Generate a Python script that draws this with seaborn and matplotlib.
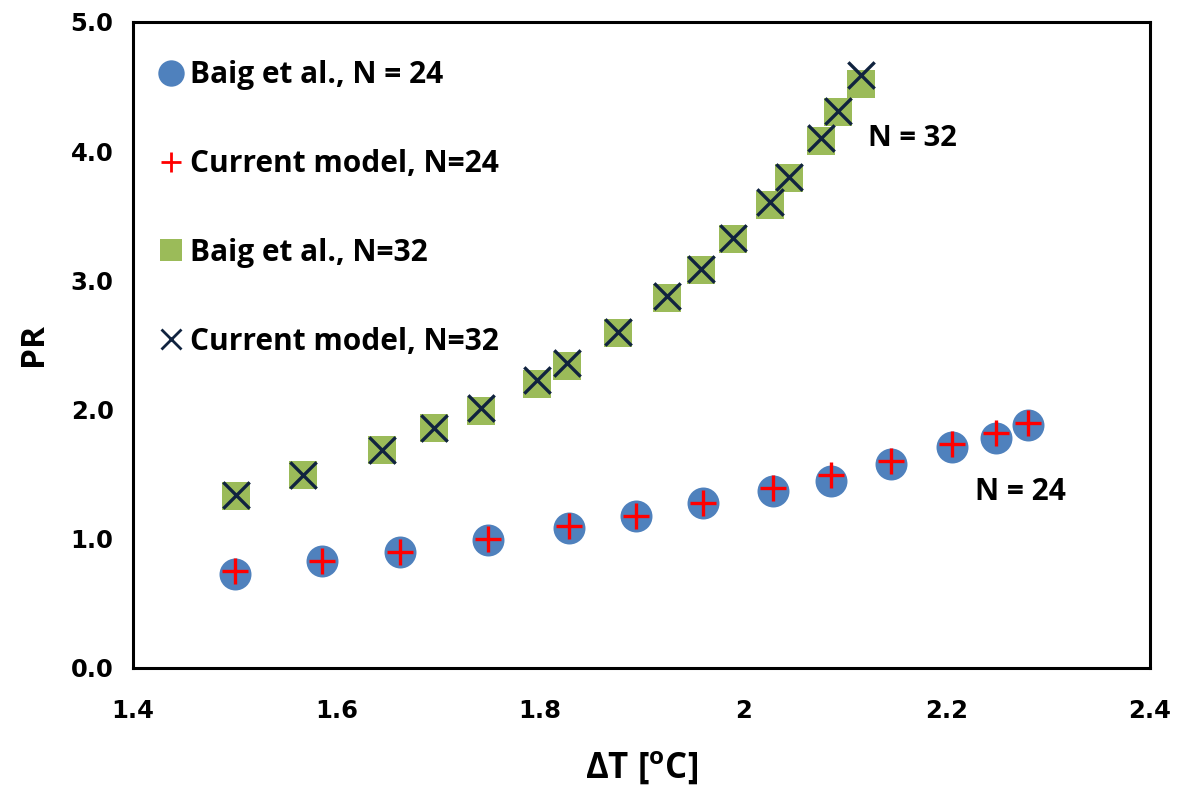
import numpy as np
import pandas as pd
import matplotlib
matplotlib.use("Agg")
import matplotlib.pyplot as plt
import seaborn as sns
from matplotlib.lines import Line2D

# N = 24 data
dt_24 = [1.500, 1.586, 1.663, 1.749, 1.829, 1.895, 1.960, 2.029, 2.086, 2.145, 2.205, 2.249, 2.280]
baig_24 = [0.73, 0.83, 0.90, 0.99, 1.08, 1.18, 1.28, 1.37, 1.45, 1.58, 1.71, 1.78, 1.88]
model_24 = [0.75, 0.83, 0.90, 1.00, 1.10, 1.18, 1.28, 1.39, 1.49, 1.60, 1.73, 1.82, 1.90]

# N = 32 data
dt_32 = [1.501, 1.567, 1.645, 1.696, 1.742, 1.797, 1.827, 1.877, 1.925, 1.958,
         1.990, 2.026, 2.045, 2.076, 2.093, 2.116]
baig_32 = [1.33, 1.49, 1.69, 1.86, 1.99, 2.20, 2.34, 2.59, 2.86, 3.08,
           3.32, 3.58, 3.79, 4.08, 4.30, 4.52]
model_32 = [1.34, 1.49, 1.69, 1.86, 2.01, 2.23, 2.36, 2.60, 2.88, 3.09,
            3.33, 3.61, 3.80, 4.10, 4.31, 4.59]

x_ticks = [1.4, 1.6, 1.8, 2.0, 2.2, 2.4]
x_ticklabels = ["1.4", "1.6", "1.8", "2", "2.2", "2.4"]
y_ticks = [0, 1, 2, 3, 4, 5]

labels = ["Baig et al., N = 24", "Current model, N=24",
          "Baig et al., N=32", "Current model, N=32"]

blue = "#4F81BD"
green = "#9BBB59"
red = "#FF0000"
navy = "#10233F"

sns.set_style("white")
plt.rcParams["font.family"] = ["Open Sans", "DejaVu Sans"]
plt.rcParams["mathtext.default"] = "regular"
plt.rcParams["text.color"] = "black"
plt.rcParams["axes.labelcolor"] = "black"

fig = plt.figure(figsize=(11.81, 7.94), dpi=100)
ax = fig.add_axes([0.1126, 0.1587, 0.8612, 0.8136])

sns.scatterplot(x=dt_24, y=baig_24, marker="o", s=530, color=blue, linewidth=0, ax=ax, zorder=2)
sns.scatterplot(x=dt_24, y=model_24, marker="+", s=340, color=red, linewidth=2.4, ax=ax, zorder=3)
sns.scatterplot(x=dt_32, y=baig_32, marker="s", s=380, color=green, linewidth=0, ax=ax, zorder=2)
sns.scatterplot(x=dt_32, y=model_32, marker="x", s=360, color=navy, linewidth=2.4, ax=ax, zorder=3)

ax.set_xlim(1.4, 2.4)
ax.set_ylim(0, 5)
ax.set_xticks(x_ticks)
ax.set_xticklabels(x_ticklabels)
ax.set_yticks(y_ticks)
ax.set_yticklabels([f"{v:.1f}" for v in y_ticks])

for lab in ax.get_xticklabels() + ax.get_yticklabels():
    lab.set_family("DejaVu Sans")
    lab.set_fontweight("bold")
    lab.set_fontsize(17.5)

ax.tick_params(direction="in", length=8, width=2, pad=14, colors="black")
ax.tick_params(axis="x", pad=22)
for sp in ax.spines.values():
    sp.set_visible(True)
    sp.set_linewidth(2.2)
    sp.set_color("black")

ax.set_xlabel("ΔT [$^{o}$C]", fontsize=25, fontweight="bold", labelpad=19)
ax.set_ylabel("PR", fontsize=24, fontweight="bold", labelpad=15)

ax.text(2.166, 4.10, "N = 32", fontsize=21, fontweight="bold", ha="center", va="center")
ax.text(2.273, 1.36, "N = 24", fontsize=21.5, fontweight="bold", ha="center", va="center")

handles = [
    Line2D([], [], linestyle="none", marker="o", markersize=19, markerfacecolor=blue, markeredgewidth=0),
    Line2D([], [], linestyle="none", marker="+", markersize=15, color=red, markeredgewidth=2),
    Line2D([], [], linestyle="none", marker="s", markersize=16, markerfacecolor=green, markeredgewidth=0),
    Line2D([], [], linestyle="none", marker="x", markersize=14, color=navy, markeredgewidth=2),
]
leg = ax.legend(handles, labels, loc="upper left", bbox_to_anchor=(0.0, 0.98), frameon=False,
                prop={"family": "Open Sans", "weight": "bold", "size": 21.5},
                handlelength=0.85, handletextpad=0.22, labelspacing=1.97, borderaxespad=0.45)

fig.savefig("out.png", dpi=100)
